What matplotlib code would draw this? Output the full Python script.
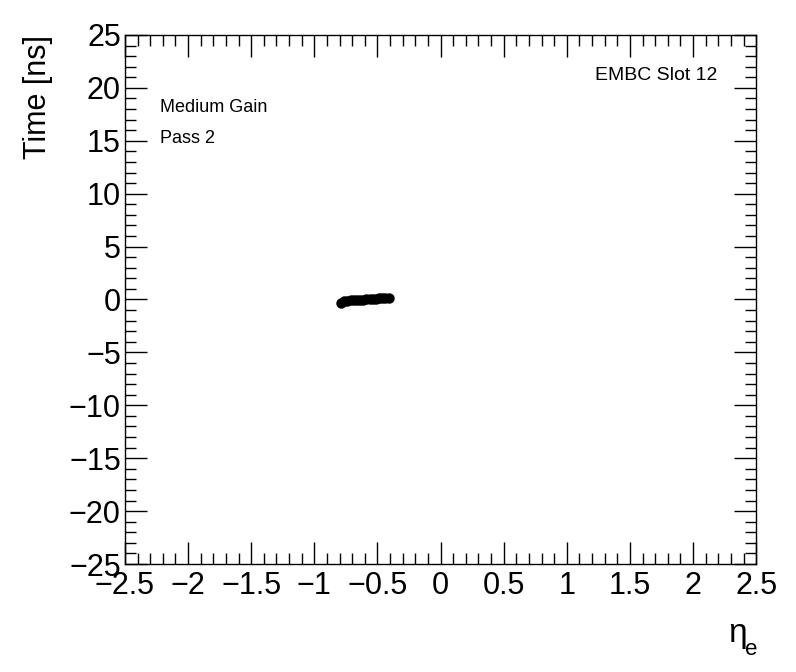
import numpy as np
import matplotlib
matplotlib.use("Agg")
import matplotlib.pyplot as plt
from matplotlib.ticker import MultipleLocator

plt.rcParams['font.family'] = ['Liberation Sans', 'DejaVu Sans']

# data
eta = [-0.7875, -0.7625, -0.7375, -0.7125, -0.6875, -0.6625, -0.6375, -0.6125,
       -0.5875, -0.5625, -0.5375, -0.5125, -0.4875, -0.4625, -0.4375, -0.4125]
time_ns = [-0.30, -0.15, -0.10, -0.08, -0.06, -0.05, -0.05, -0.02,
           0.00, 0.03, 0.05, 0.08, 0.10, 0.12, 0.15, 0.10]

fig = plt.figure(figsize=(7.96, 6.72), dpi=100)
ax = fig.add_axes([0.157, 0.1607, 0.793, 0.7873])

ax.plot(eta, time_ns, 'o', color='black', markersize=6.5)

ax.set_xlim(-2.5, 2.5)
ax.set_ylim(-25, 25)
ax.xaxis.set_major_locator(MultipleLocator(0.5))
ax.xaxis.set_minor_locator(MultipleLocator(0.1))
ax.yaxis.set_major_locator(MultipleLocator(5))
ax.yaxis.set_minor_locator(MultipleLocator(1))
ax.tick_params(which='both', direction='in', top=True, right=True, labelsize=22, width=1)
ax.tick_params(which='major', length=16)
ax.tick_params(axis='y', which='major', pad=3)
ax.tick_params(axis='x', which='major', pad=5)
ax.tick_params(which='minor', length=8)
fmt = plt.FuncFormatter(lambda v, p: ('%g' % v).replace('-', '\u2212'))
ax.xaxis.set_major_formatter(fmt)
ax.yaxis.set_major_formatter(fmt)
for s in ax.spines.values():
    s.set_linewidth(1)

fig.text(0.048, 0.948, 'Time [ns]', rotation=90, ha='center', va='top', fontsize=22)
fig.text(0.926, 0.058, '\u03b7', ha='center', va='center', fontsize=24)
fig.text(0.944, 0.033, 'e', ha='center', va='center', fontsize=16)

ax.text(0.055, 0.855, 'Medium Gain', transform=ax.transAxes, fontsize=13)
ax.text(0.055, 0.795, 'Pass 2', transform=ax.transAxes, fontsize=13)
ax.text(0.938, 0.915, 'EMBC Slot 12', transform=ax.transAxes, fontsize=14, ha='right')

fig.savefig('out.png', dpi=100)
